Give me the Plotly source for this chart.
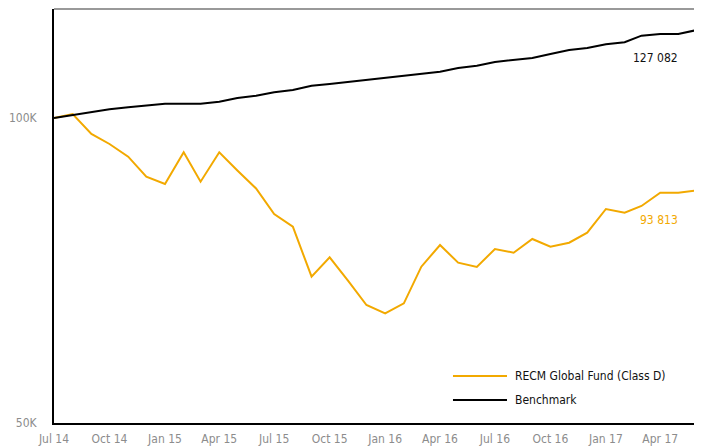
import pandas as pd
import plotly.graph_objects as go

# Monthly observations Jul 2014 .. Jun 2017
months = pd.date_range("2014-07-01", periods=36, freq="MS")

fund_name = "RECM Global Fund (Class D)"
bench_name = "Benchmark"

fund = [100000, 100913, 96429, 94262, 91581, 87512, 86072, 92501, 86523, 92501,
        88753, 85196, 80400, 78113, 69717, 72863, 69040, 65374, 64153, 65628,
        71324, 74929, 71975, 71275, 74251, 73630, 75959, 74640, 75322, 77052,
        81318, 80637, 81874, 84387, 84387, 84810]

bench = [100000, 100684, 101442, 101997, 102462, 102928, 103303, 103303, 103303, 103774,
         104650, 105199, 106015, 106570, 107617, 108033, 108525, 109020, 109566, 110090,
         110592, 111095, 112034, 112621, 113572, 114012, 114609, 115656, 116712, 117243,
         118234, 118772, 120567, 121034, 121034, 122138]

fund_end_label = "93 813"
bench_end_label = "127 082"

y_tickvals = [50000, 100000]
y_ticktext = ["50K", "100K"]

FUND_COLOR = "#F2A900"
FONT = "DejaVu Sans Condensed, Liberation Sans Narrow, Arial Narrow, sans-serif"

fig = go.Figure()
fig.add_trace(go.Scatter(x=months, y=fund, mode="lines", name=fund_name,
                         line=dict(color=FUND_COLOR, width=2), showlegend=False))
fig.add_trace(go.Scatter(x=months, y=bench, mode="lines", name=bench_name,
                         line=dict(color="#000000", width=2), showlegend=False))

# the page body adds an 8px offset; size the figure to compensate
fig.update_layout(
    width=694, height=440,
    margin=dict(l=46, r=5, t=1, b=25, autoexpand=False),
    paper_bgcolor="white", plot_bgcolor="white",
    font=dict(family=FONT, size=12, color="#8c8c8c"),
    showlegend=False,
)
fig.update_xaxes(
    type="date", range=[months[0], months[-1]],
    dtick="M3", tick0="2014-07-01", tickformat="%b %y",
    showgrid=False, zeroline=False, automargin=False,
    showline=True, linecolor="#000000", linewidth=2,
    ticks="", ticklabelstandoff=4,
    tickfont=dict(family=FONT, size=12, color="#8c8c8c"),
)
fig.update_yaxes(
    type="log", range=[4.69897, 5.10755],
    tickvals=y_tickvals, ticktext=y_ticktext,
    showgrid=False, zeroline=False, automargin=False,
    showline=True, linecolor="#000000", linewidth=2,
    ticks="", ticklabelstandoff=13,
    tickfont=dict(family=FONT, size=12, color="#8c8c8c"),
)

# top and right frame (gray)
fig.add_shape(type="line", xref="paper", yref="paper", x0=0, x1=1, y0=1, y1=1,
              line=dict(color="#999999", width=2))
fig.add_shape(type="line", xref="paper", yref="paper", x0=1, x1=1, y0=0, y1=1,
              line=dict(color="#999999", width=2))

# legend drawn inside the plot
leg_items = [(fund_name, FUND_COLOR, 0.1135), (bench_name, "#000000", 0.0556)]
for name, col, yy in leg_items:
    fig.add_shape(type="line", xref="paper", yref="paper", x0=0.6205, x1=0.7045,
                  y0=yy, y1=yy, line=dict(color=col, width=2))
    fig.add_annotation(xref="paper", yref="paper", x=0.7138, y=yy, text=name,
                       showarrow=False, xanchor="left", yanchor="middle",
                       font=dict(family=FONT, size=12, color="#111111"))

# end value labels
fig.add_annotation(xref="paper", yref="paper", x=0.936, y=0.8816, text=bench_end_label,
                   showarrow=False, xanchor="center", yanchor="middle",
                   font=dict(family=FONT, size=12, color="#111111"))
fig.add_annotation(xref="paper", yref="paper", x=0.941, y=0.4903, text=fund_end_label,
                   showarrow=False, xanchor="center", yanchor="middle",
                   font=dict(family=FONT, size=12, color=FUND_COLOR))

fig.write_html("out.html")
